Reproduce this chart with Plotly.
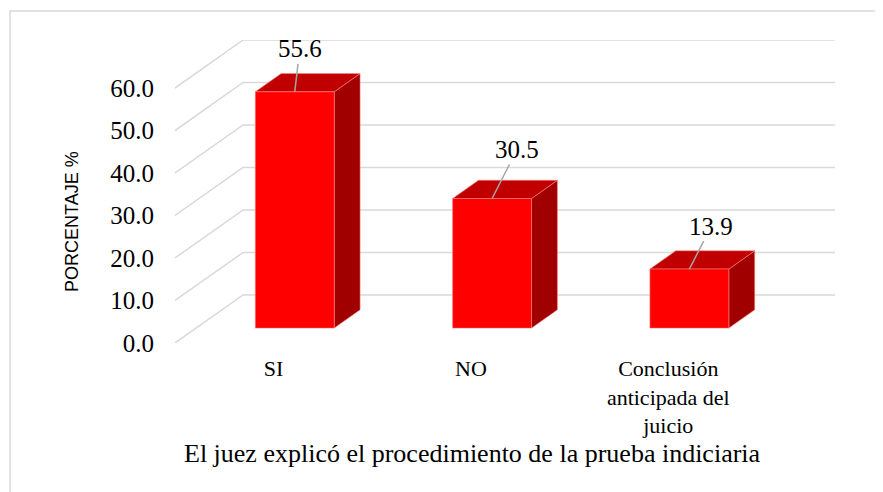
import plotly.graph_objects as go

# ---- data ----
categories = ["SI", "NO", "Conclusión<br>anticipada del<br>juicio"]
values = [55.6, 30.5, 13.9]
ytick_values = [0, 10, 20, 30, 40, 50, 60]
ytick_labels = ["0.0", "10.0", "20.0", "30.0", "40.0", "50.0", "60.0"]
x_title = "El juez explicó el procedimiento de la prueba indiciaria"
y_title = "PORCENTAJE %"

# ---- 3D projection style (depth offsets in axis units) ----
DX = 0.345   # horizontal shift of full depth (category units)
DY = 11.3    # vertical shift of full depth (value units)
D0, D1 = 0.31, 0.69   # bar front / back depth fraction
HALF_W = 0.2          # half bar width (category units)
label_offsets = [(5, -43), (25, -49), (22, -43)]  # pixel offsets of data labels

SERIF = "Liberation Serif, Times New Roman, serif"
SANS = "Liberation Sans, Arial, sans-serif"
GRID = "#D9D9D9"

# plot-area geometry in page pixels (page has an 8px body margin)
PL, PR, PT, PB = 175, 835, 40, 343
PAGE_OFF = 8

fig = go.Figure()

# back wall gridlines + diagonal side lines
n_cat = len(categories)
gx, gy = [], []
for t in ytick_values:
    gx += [0, DX, n_cat + DX, None]
    gy += [t, t + DY, t + DY, None]
fig.add_trace(go.Scatter(x=gx, y=gy, mode="lines",
                         line=dict(color=GRID, width=1.5),
                         hoverinfo="skip", showlegend=False))

# bars as projected prisms
edge = dict(color="rgba(255,130,130,0.7)", width=0.8)
for i, v in enumerate(values):
    c = i + 0.5
    xl, xr = c - HALF_W, c + HALF_W
    # side face
    fig.add_trace(go.Scatter(
        x=[xr + D0 * DX, xr + D1 * DX, xr + D1 * DX, xr + D0 * DX, xr + D0 * DX],
        y=[D0 * DY, D1 * DY, v + D1 * DY, v + D0 * DY, D0 * DY],
        fill="toself", fillcolor="#A00000", mode="lines", line=edge,
        hoverinfo="skip", showlegend=False))
    # top face
    fig.add_trace(go.Scatter(
        x=[xl + D0 * DX, xr + D0 * DX, xr + D1 * DX, xl + D1 * DX, xl + D0 * DX],
        y=[v + D0 * DY, v + D0 * DY, v + D1 * DY, v + D1 * DY, v + D0 * DY],
        fill="toself", fillcolor="#C00000", mode="lines", line=edge,
        hoverinfo="skip", showlegend=False))
    # front face
    fig.add_trace(go.Scatter(
        x=[xl + D0 * DX, xr + D0 * DX, xr + D0 * DX, xl + D0 * DX, xl + D0 * DX],
        y=[D0 * DY, D0 * DY, v + D0 * DY, v + D0 * DY, D0 * DY],
        fill="toself", fillcolor="#FF0000", mode="lines", line=edge,
        hoverinfo="skip", showlegend=False))
    ax, ay = label_offsets[i]
    fig.add_annotation(x=c + D0 * DX, y=v + D0 * DY, text=f"{v:.1f}",
                       showarrow=True, arrowhead=0, arrowwidth=1.5,
                       arrowcolor="#A6A6A6", ax=ax, ay=ay,
                       font=dict(family=SERIF, size=25, color="black"))

W, H = PR - PL, PB - PT
# y-axis title (placed as rotated text, Excel position)
fig.add_annotation(xref="paper", yref="paper",
                   x=(72 - PL) / W, y=(PB - 222) / H,
                   text=y_title, textangle=-90, showarrow=False,
                   xanchor="center", yanchor="middle",
                   font=dict(family=SANS, size=18, color="black"))
# x-axis title (Excel position, centred under the whole chart)
fig.add_annotation(xref="paper", yref="paper",
                   x=(472 - PL) / W, y=(PB - 454) / H,
                   text=x_title, showarrow=False,
                   xanchor="center", yanchor="middle",
                   font=dict(family=SERIF, size=26, color="black"))

# outer border (cropped chart frame)
fig.add_shape(type="rect", xref="paper", yref="paper",
              x0=(10 - PL) / W, x1=(900 - PL) / W,
              y0=(PB - 510) / H, y1=(PB - 11) / H,
              line=dict(color=GRID, width=1.5), layer="below")

fig.update_layout(
    width=883 - PAGE_OFF, height=492 - PAGE_OFF,
    margin=dict(l=PL - PAGE_OFF, r=883 - PR, t=PT - PAGE_OFF, b=492 - PB),
    paper_bgcolor="white", plot_bgcolor="white",
    showlegend=False,
    xaxis=dict(range=[0, n_cat + DX], tickmode="array",
               tickvals=[i + 0.5 for i in range(n_cat)], ticktext=categories,
               tickfont=dict(family=SERIF, size=22, color="black"),
               showgrid=False, zeroline=False, showline=False, ticks="",
               ticklabelstandoff=10),
    yaxis=dict(range=[0, 60 + DY], tickmode="array",
               tickvals=ytick_values, ticktext=ytick_labels,
               tickfont=dict(family=SERIF, size=25, color="black"),
               showgrid=False, zeroline=False, showline=False, ticks="",
               ticklabelstandoff=20),
)

fig.write_html("out.html")
